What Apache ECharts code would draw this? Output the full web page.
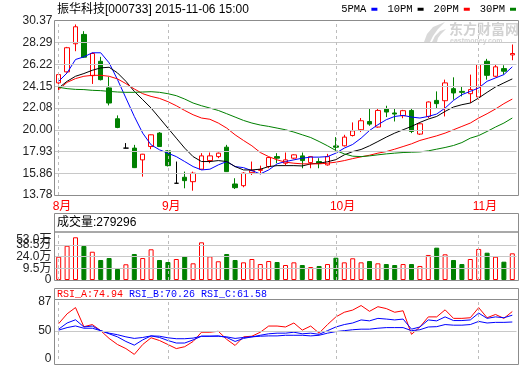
<!DOCTYPE html>
<html><head><meta charset="utf-8">
<script src="https://cdn.jsdelivr.net/npm/echarts@6/dist/echarts.min.js"></script>
<style>html,body{margin:0;padding:0;background:#fff}#c{width:520px;height:365px}</style>
</head><body><div id="c"></div>
<script>
const dates = ['2015-08-13','2015-08-14','2015-08-17','2015-08-18','2015-08-19','2015-08-20','2015-08-21','2015-08-24','2015-08-25','2015-08-26','2015-08-27','2015-08-28','2015-08-31',
'2015-09-01','2015-09-02','2015-09-07','2015-09-08','2015-09-09','2015-09-10','2015-09-11','2015-09-14','2015-09-15','2015-09-16','2015-09-17','2015-09-18','2015-09-21','2015-09-22','2015-09-23','2015-09-24','2015-09-25','2015-09-28','2015-09-29','2015-09-30',
'2015-10-08','2015-10-09','2015-10-12','2015-10-13','2015-10-14','2015-10-15','2015-10-16','2015-10-19','2015-10-20','2015-10-21','2015-10-22','2015-10-23','2015-10-26','2015-10-27','2015-10-28','2015-10-29','2015-10-30',
'2015-11-02','2015-11-03','2015-11-04','2015-11-05','2015-11-06'];
const openP  = [24.47,25.52,28.20,29.09,25.16,26.53,23.99,21.05,18.25,18.25,17.13,18.40,19.68,17.99,14.90,15.47,15.05,16.24,17.06,17.44,18.34,14.83,14.67,15.91,16.13,16.49,17.44,16.81,17.29,17.51,16.87,16.97,16.65,18.46,18.47,19.45,20.00,20.79,20.26,21.98,21.60,21.34,21.84,19.59,21.27,22.80,22.77,23.92,23.66,23.44,23.13,26.53,25.10,25.83,27.14];
const closeP = [25.26,27.82,29.82,26.92,27.27,24.78,22.55,20.22,18.25,16.39,17.67,19.52,18.40,16.58,14.90,15.15,15.86,17.51,17.51,17.77,16.01,14.48,15.86,16.10,16.22,17.35,17.29,17.13,17.61,17.06,17.44,16.81,17.44,18.34,19.30,19.90,20.86,20.54,21.84,21.69,21.50,21.82,19.84,20.57,22.65,22.49,24.47,23.51,23.57,23.83,26.22,25.19,26.00,25.58,27.27];
const lowP   = [23.57,25.45,27.49,26.85,24.37,24.70,22.32,20.15,18.25,16.35,15.53,18.15,18.36,16.50,14.90,14.42,14.19,16.20,16.81,17.29,15.98,14.35,14.52,15.69,15.76,16.33,16.81,16.58,17.20,16.33,16.33,16.33,16.58,18.02,18.40,19.36,19.78,20.38,20.20,21.21,20.79,21.10,19.68,19.50,21.12,21.98,21.27,22.87,23.18,22.55,22.87,24.78,25.00,25.26,26.63];
const highP  = [25.33,27.90,30.04,29.40,27.37,26.95,25.04,21.37,18.73,18.56,17.70,19.55,19.78,18.05,16.97,16.01,16.01,17.77,17.83,17.83,18.56,15.38,15.95,16.97,16.58,17.40,17.77,17.83,17.66,17.83,17.48,17.29,17.70,19.30,19.52,20.70,21.12,21.98,21.98,22.29,22.07,21.90,22.07,20.65,22.70,23.66,24.78,25.00,24.14,25.26,26.25,26.76,26.22,26.15,28.13];
const volume = [23.75,37.3,47.7,37.0,29.9,19.7,22.1,8.6,14.4,27.1,22.1,32.9,19.7,17.2,20.9,24.6,15.6,41.5,24.2,18.1,27.1,19.7,16.8,20.9,14.7,18.4,17.2,13.5,16.8,13.5,11.0,12.3,14.7,22.5,16.8,21.8,16.8,18.4,15.6,14.7,13.5,14.7,14.7,12.3,25.9,34.9,26.7,19.7,14.7,20.9,33.3,28.7,23.75,17.6,27.93];
const ma5  = [24.62,25.42,26.70,26.95,27.34,27.34,26.38,24.78,23.03,21.27,19.68,18.56,18.09,17.77,17.44,16.97,16.49,16.17,16.24,16.65,16.97,16.49,16.39,16.10,15.79,16.17,16.75,16.97,17.13,17.29,17.39,17.39,17.44,17.77,18.25,18.60,19.20,19.93,20.48,20.96,21.27,21.37,21.21,21.12,21.27,21.50,22.07,22.80,23.35,23.66,23.99,24.62,24.94,25.26,26.00];
const ma10 = [23.99,24.62,25.10,25.36,25.67,25.90,25.96,25.42,24.62,23.66,22.87,22.07,21.12,20.16,19.20,18.25,17.44,16.97,16.97,17.06,16.97,16.49,16.17,16.17,16.24,16.49,16.58,16.58,16.58,16.55,16.75,16.81,16.95,17.15,17.61,17.92,18.12,18.47,18.88,19.30,19.68,20.00,20.32,20.70,21.02,21.27,21.75,22.17,22.39,22.55,23.03,23.57,24.08,24.47,24.85];
const ma20 = [23.83,24.52,24.88,25.10,25.19,25.19,25.10,24.85,24.40,23.89,23.44,23.18,22.99,22.68,22.29,21.84,21.43,21.12,21.00,20.64,20.16,19.52,18.98,18.47,17.83,17.44,17.13,16.91,16.81,16.75,16.75,16.75,16.81,16.91,17.06,17.25,17.42,17.57,17.77,17.92,18.15,18.40,18.66,18.98,19.20,19.42,19.68,20.00,20.32,20.64,21.12,21.53,21.98,22.49,22.93];
const ma30 = [24.05,23.92,23.85,23.83,23.76,23.73,23.66,23.60,23.57,23.57,23.60,23.63,23.57,23.44,23.25,22.93,22.55,22.29,22.07,21.84,21.53,21.21,20.89,20.64,20.45,20.32,20.16,20.00,19.78,19.52,19.26,18.88,18.47,18.02,17.70,17.48,17.44,17.51,17.61,17.70,17.77,17.83,17.86,17.89,17.99,18.15,18.31,18.50,18.78,19.20,19.45,19.84,20.26,20.64,21.12];
const rsiA = [59.5,72.0,80.0,55.5,58.3,50.5,40.6,32.8,27.6,20.2,32.8,41.4,37.9,32.8,27.6,30.0,36.7,48.5,48.5,49.7,39.4,31.6,42.6,43.4,48.5,56.4,56.4,55.2,60.3,51.2,56.4,47.3,58.3,68.1,74.0,76.8,82.6,75.2,81.1,78.7,74.0,75.9,45.8,55.2,68.1,68.1,77.1,66.2,66.2,67.0,79.9,67.0,71.2,66.2,74.94];
const rsiB = [52.4,60.3,64.4,55.2,56.4,50.5,46.5,42.6,36.7,32.0,38.7,43.8,41.8,37.9,34.7,34.7,38.7,43.4,43.4,43.8,41.8,36.7,40.6,42.6,44.6,46.5,47.3,47.3,48.5,46.5,47.3,45.8,50.5,55.2,58.3,60.3,64.2,63.0,66.2,65.3,64.2,65.3,52.4,55.2,64.2,63.0,68.1,63.4,63.4,64.2,72.9,66.2,68.1,67.0,70.26];
const rsiC = [51.2,54.4,56.5,53.6,53.6,50.5,47.3,45.3,42.6,40.6,41.8,43.8,43.4,41.4,40.2,40.2,41.0,43.4,43.4,43.4,42.6,40.6,41.8,42.6,43.4,43.8,43.8,44.6,44.6,44.6,43.8,44.6,47.3,49.3,50.5,51.7,52.4,52.4,53.6,54.4,54.4,54.4,50.5,51.7,55.2,55.6,58.3,57.5,57.5,58.3,62.3,60.3,61.1,61.1,61.58];

const priceTickLabels = ['13.78','15.86','17.93','20.00','22.08','24.15','26.22','28.29','30.37'];
const volTickValuesA = [-5, 24];
const volTickLabelsA = ['0','24.0万'];
const volTickValuesB = [9.5, 38.5];
const volTickLabelsB = ['9.5万','38.5万'];
const volTopValue = 53, volTopLabel = '53.0万';
const rsiTickValues = [14.3, 50, 87];
const rsiTickLabels = ['0','50','87'];

const priceMin = 13.78, priceMax = 30.37;
const priceStep = (priceMax - priceMin) / 8;
const priceTicks = priceTickLabels.map((_, k) => k === 8 ? priceMax : +(priceMin + k * priceStep).toFixed(6));
const monthStart = dates.map((d, i) => i === 0 || d.slice(5, 7) !== dates[i - 1].slice(5, 7));
const monthIdx = dates.map((d, i) => i).filter(i => monthStart[i]);

const FONT = '"Liberation Sans","Noto Sans CJK SC",sans-serif';
const MONO = '"Liberation Mono","Noto Sans CJK SC",monospace';
const RED = '#ff0000', GREEN = '#008000', GRID = '#c8c8c8', BORDER = '#8c8c8c';

function lookup(vals, labels) {
  return function (v) {
    for (let k = 0; k < vals.length; k++) if (Math.abs(v - vals[k]) < 1e-4) return labels[k];
    return '';
  };
}
const monthLines = monthIdx.map(i => ({ xAxis: dates[i], lineStyle: { type: [3, 3], color: '#bdbdbd', width: 1 } }));
function hLines(vals) { return vals.map(v => ({ yAxis: v, lineStyle: { type: 'solid', color: GRID, width: 1 } })); }
const mkLine = (vals) => ({ silent: true, symbol: ['none', 'none'], label: { show: false }, animation: false, data: hLines(vals).concat(monthLines) });

const candleData = dates.map((d, i) => {
  const v = [openP[i], closeP[i], lowP[i], highP[i]];
  if (openP[i] === closeP[i]) return { value: v, itemStyle: { color: '#000', color0: '#000', borderColor: '#000', borderColor0: '#000' } };
  return v;
});
const volData = volume.map((v, i) => ({
  value: v,
  itemStyle: closeP[i] >= openP[i] ? { color: '#fff', borderColor: RED, borderWidth: 1 } : { color: GREEN, borderColor: GREEN, borderWidth: 1 }
}));

const G = { left: 54.5, width: 462 };
const hiddenX = (gi) => ({ type: 'category', gridIndex: gi, data: dates, boundaryGap: true, axisLine: { show: false }, axisTick: { show: false }, axisLabel: { show: false }, splitLine: { show: false } });
const baseLabel = { color: '#222', fontFamily: FONT, fontSize: 12, showMinLabel: true, showMaxLabel: true, hideOverlap: false };
const bare = { axisLine: { show: false }, axisTick: { show: false }, splitLine: { show: false } };
const volAxis = (vals, fmt, extra) => Object.assign({ type: 'value', gridIndex: 1, min: -5, max: 53, startValue: -5, position: 'left',
  axisLabel: Object.assign({}, baseLabel, { customValues: vals, formatter: fmt, margin: 3 }, extra || {}) }, bare);

const option = {
  animation: false,
  backgroundColor: '#fff',
  grid: [
    { left: G.left, width: G.width, top: 21, height: 174 },
    { left: G.left, width: G.width, top: 233, height: 47 },
    { left: G.left, width: G.width, top: 299.5, height: 64.5 }
  ],
  legend: {
    data: ['5PMA', '10PM', '20PM', '30PM'], right: 4, top: 4, itemWidth: 6, itemHeight: 3, itemGap: 10,
    align: 'right', icon: 'rect', selectedMode: false, padding: 0,
    textStyle: { fontFamily: MONO, fontSize: 10.5, color: '#000' }
  },
  xAxis: [
    { type: 'category', gridIndex: 0, data: dates, boundaryGap: true, axisLine: { show: false }, axisTick: { show: false }, splitLine: { show: false },
      axisLabel: { interval: (i) => monthStart[i], formatter: (v) => (+v.slice(5, 7)) + '月', color: RED, fontFamily: FONT, fontSize: 12,
        align: 'left', padding: [0, 0, 0, -6], margin: 6 } },
    hiddenX(1), hiddenX(2)
  ],
  yAxis: [
    Object.assign({ type: 'value', gridIndex: 0, min: priceMin, max: priceMax,
      axisLabel: Object.assign({}, baseLabel, { customValues: priceTicks, formatter: lookup(priceTicks, priceTickLabels), margin: 2 }) }, bare),
    volAxis(volTickValuesA, lookup(volTickValuesA, volTickLabelsA)),
    Object.assign({ type: 'value', gridIndex: 2, min: 14.3, max: 90.3,
      axisLabel: Object.assign({}, baseLabel, { customValues: rsiTickValues, formatter: lookup(rsiTickValues, rsiTickLabels), margin: 3 }) }, bare),
    volAxis(volTickValuesB, lookup(volTickValuesB, volTickLabelsB)),
    volAxis([volTopValue], () => volTopLabel, { verticalAlign: 'top', padding: [1, 0, 0, 0] })
  ],
  series: [
    { type: 'candlestick', name: 'K', xAxisIndex: 0, yAxisIndex: 0, data: candleData, barWidth: 5,
      itemStyle: { color: '#fff', color0: GREEN, borderColor: RED, borderColor0: GREEN, borderWidth: 1 },
      markLine: mkLine(priceTicks.slice(1, 8)) },
    { type: 'line', name: '5PMA', xAxisIndex: 0, yAxisIndex: 0, data: ma5, symbol: 'none', z: 4, color: '#0000ff', lineStyle: { width: 1, color: '#0000ff' } },
    { type: 'line', name: '10PM', xAxisIndex: 0, yAxisIndex: 0, data: ma10, symbol: 'none', z: 4, color: '#000000', lineStyle: { width: 1, color: '#000000' } },
    { type: 'line', name: '20PM', xAxisIndex: 0, yAxisIndex: 0, data: ma20, symbol: 'none', z: 4, color: RED, lineStyle: { width: 1, color: RED } },
    { type: 'line', name: '30PM', xAxisIndex: 0, yAxisIndex: 0, data: ma30, symbol: 'none', z: 4, color: GREEN, lineStyle: { width: 1, color: GREEN } },
    { type: 'bar', name: 'VOL', xAxisIndex: 1, yAxisIndex: 1, data: volData, barWidth: 5,
      markLine: mkLine([9.5, 24, 38.5]) },
    { type: 'line', name: 'RSI_A', xAxisIndex: 2, yAxisIndex: 2, data: rsiA, symbol: 'none', z: 4, lineStyle: { width: 1, color: RED },
      markLine: mkLine([50]) },
    { type: 'line', name: 'RSI_B', xAxisIndex: 2, yAxisIndex: 2, data: rsiB, symbol: 'none', z: 4, lineStyle: { width: 1, color: '#0000ff' } },
    { type: 'line', name: 'RSI_C', xAxisIndex: 2, yAxisIndex: 2, data: rsiC, symbol: 'none', z: 4, lineStyle: { width: 1, color: '#0000ff' } }
  ],
  graphic: [
    { type: 'polygon', z: 0, silent: true, shape: { points: [[424,42],[427,34],[433,27],[445,22],[438,29],[433,36],[430,42]] }, style: { fill: '#d9d9d9' } },
    { type: 'polygon', z: 0, silent: true, shape: { points: [[432,42],[435,36],[440,31],[446,29],[441,34],[438,38],[437,42]] }, style: { fill: '#d9d9d9' } },
    { type: 'text', x: 449, y: 22, z: 0, silent: true, style: { text: '东方财富网', fontFamily: '"Noto Sans CJK SC"', fontWeight: 'bold', fontSize: 14, fill: '#d2d2d2' } },
    { type: 'text', x: 450, y: 37.5, z: 0, silent: true, style: { text: 'eastmoney.com', fontFamily: FONT, fontWeight: 'bold', fontSize: 7, fill: '#d2d2d2' } },
    { type: 'rect', z: 100, silent: true, shape: { x: 54.5, y: 20.5, width: 464, height: 175 }, style: { fill: 'none', stroke: BORDER, lineWidth: 1 } },
    { type: 'rect', z: 100, silent: true, shape: { x: 54.5, y: 213.5, width: 464, height: 18.5 }, style: { fill: 'none', stroke: BORDER, lineWidth: 1 } },
    { type: 'rect', z: 100, silent: true, shape: { x: 54.5, y: 232, width: 464, height: 48.5 }, style: { fill: 'none', stroke: BORDER, lineWidth: 1 } },
    { type: 'rect', z: 100, silent: true, shape: { x: 54.5, y: 288.5, width: 464, height: 11 }, style: { fill: 'none', stroke: BORDER, lineWidth: 1 } },
    { type: 'rect', z: 100, silent: true, shape: { x: 54.5, y: 299.5, width: 464, height: 65 }, style: { fill: 'none', stroke: BORDER, lineWidth: 1 } },
    { type: 'text', x: 57, y: 10, z: 100, silent: true, style: { text: '振华科技[000733] 2015-11-06 15:00', fontFamily: FONT, fontSize: 12, fill: '#000', verticalAlign: 'middle' } },
    { type: 'text', x: 57, y: 223, z: 100, silent: true, style: { text: '成交量:279296', fontFamily: FONT, fontSize: 12, fill: '#000', verticalAlign: 'middle' } },
    { type: 'text', x: 57, y: 294.5, z: 100, silent: true, style: { text: 'RSI_A:74.94', fontFamily: MONO, fontSize: 10, fill: RED, verticalAlign: 'middle' } },
    { type: 'text', x: 129, y: 294.5, z: 100, silent: true, style: { text: 'RSI_B:70.26', fontFamily: MONO, fontSize: 10, fill: '#0000ff', verticalAlign: 'middle' } },
    { type: 'text', x: 201, y: 294.5, z: 100, silent: true, style: { text: 'RSI_C:61.58', fontFamily: MONO, fontSize: 10, fill: '#0000ff', verticalAlign: 'middle' } }
  ]
};
const chart = echarts.init(document.getElementById('c'), null, { renderer: 'canvas' });
chart.setOption(option);
</script></body></html>
